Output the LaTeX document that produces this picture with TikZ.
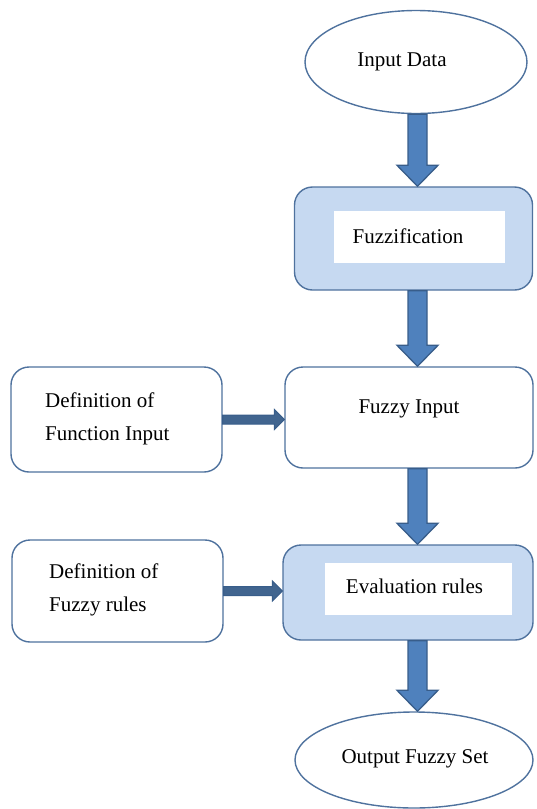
\documentclass[tikz,border=0pt]{standalone}
\usepackage{fontspec}
\setmainfont{Liberation Serif}
\usetikzlibrary{shapes.geometric,calc}
\definecolor{edgeblue}{HTML}{4F729E}
\definecolor{lightfill}{HTML}{C6D9F1}
\definecolor{arrowfill}{HTML}{4F81BD}
\definecolor{arrowedge}{HTML}{385D8A}
\definecolor{harrowfill}{HTML}{41658F}
\tikzset{
  shapeline/.style={draw=edgeblue, line width=1.4pt},
  oval/.style={shapeline, ellipse, inner sep=0pt, fill=white},
  roundbox/.style={shapeline, rectangle, rounded corners=18pt, inner sep=0pt, fill=white},
  shadedbox/.style={roundbox, fill=lightfill},
  innerwhite/.style={rectangle, fill=white, inner sep=0pt},
  txt/.style={font=\fontsize{21}{33}\selectfont, inner sep=0pt},
  blockarrow/.style={fill=arrowfill, draw=arrowedge, line width=1.3pt, line join=miter},
  hblockarrow/.style={fill=harrowfill, draw=arrowedge, line width=1pt, line join=miter},
}
\newcommand{\vblock}[2]{%
  \filldraw[blockarrow] let \p1=(axis |- #1.south), \p2=(axis |- #2.north) in
    (\x1-9.5pt,\y1) -- (\x1+9.5pt,\y1) -- (\x1+9.5pt,\y2+21pt) -- (\x1+20.5pt,\y2+21pt)
    -- (\x1,\y2) -- (\x1-20.5pt,\y2+21pt) -- (\x1-9.5pt,\y2+21pt) -- cycle;}
\newcommand{\hblock}[2]{%
  \filldraw[hblockarrow] let \p1=(#1.east), \p2=(#2.west) in
    (\x1,\y1+4.5pt) -- (\x2-10pt,\y1+4.5pt) -- (\x2-10pt,\y1+10pt) -- (\x2,\y1)
    -- (\x2-10pt,\y1-10pt) -- (\x2-10pt,\y1-4.5pt) -- (\x1,\y1-4.5pt) -- cycle;}
\begin{document}
\begin{tikzpicture}[x=1pt,y=-1pt]
\useasboundingbox (0,0) rectangle (536,809);
\coordinate (axis) at (417.5,0);

% Input Data
\node[oval, minimum width=222pt, minimum height=103pt] (indata) at (416,62) {};
\node[txt] (indatat) at (402,62) {Input Data};

% Fuzzification
\node[shadedbox, minimum width=238pt, minimum height=103pt] (fuzz) at (413.5,238.5) {};
\node[innerwhite, minimum width=171pt, minimum height=52pt] (fuzzin) at (419.5,237) {};
\node[txt] (fuzzt) at (408,236) {Fuzzification};

% Fuzzy Input
\node[roundbox, minimum width=248pt, minimum height=101pt] (fin) at (409,417.5) {};
\node[txt] (fint) at (409,409) {Fuzzy Input};

% Definition of Function Input
\node[roundbox, minimum width=211pt, minimum height=105pt] (def1) at (116.5,419.5) {};
\node[txt, anchor=west, align=left] (def1t) at (45,419) {Definition of\\Function Input};

% Evaluation rules
\node[shadedbox, minimum width=250pt, minimum height=95pt] (eval) at (408,592.5) {};
\node[innerwhite, minimum width=187pt, minimum height=52pt] (evalin) at (418.5,589) {};
\node[txt] (evalt) at (414.5,586) {Evaluation  rules};

% Definition of Fuzzy rules
\node[roundbox, minimum width=211pt, minimum height=102pt] (def2) at (117.5,591) {};
\node[txt, anchor=west, align=left] (def2t) at (49,590) {Definition of\\Fuzzy rules};

% Output Fuzzy Set
\node[oval, minimum width=238pt, minimum height=96pt] (outset) at (414,760) {};
\node[txt] (outsett) at (415,759) {Output Fuzzy Set};

% arrows
\vblock{indata}{fuzz}
\vblock{fuzz}{fin}
\vblock{fin}{eval}
\vblock{eval}{outset}
\hblock{def1}{fin}
\hblock{def2}{eval}
\end{tikzpicture}
\end{document}
